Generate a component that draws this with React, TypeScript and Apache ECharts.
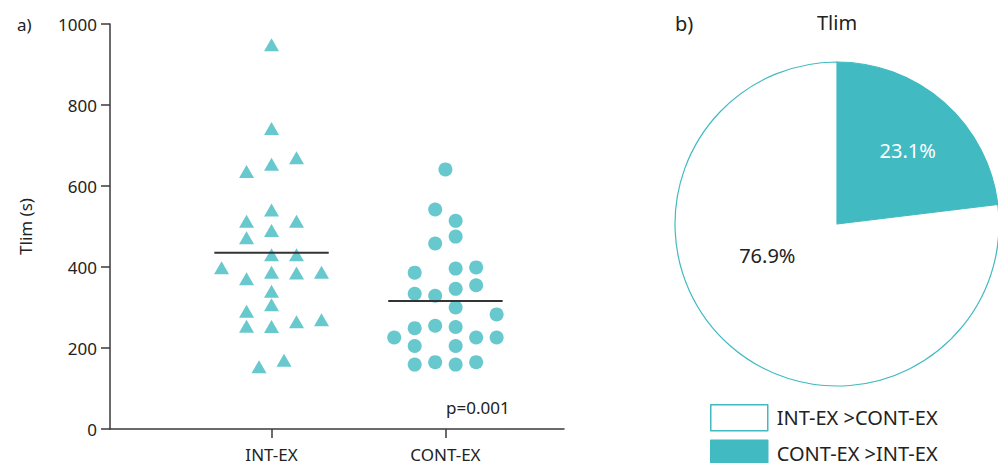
import React, { useEffect, useRef } from "react";
import * as echarts from "echarts";

// ---- data ----
const categories = ["INT-EX", "CONT-EX"];
const yTicks = [0, 200, 400, 600, 800, 1000];
const intexValues = [949, 742, 670, 654, 636, 541, 513, 513, 490, 472, 430, 430, 398, 371, 387, 385, 387, 340, 307, 291, 254, 253, 265, 270, 154, 170];
const intexColumns = [0, 0, 1, 0, -1, 0, -1, 1, 0, -1, 0, 1, -2, -1, 0, 1, 2, 0, 0, -1, -1, 0, 1, 2, -0.5, 0.5];
const contexValues = [641, 542, 514, 475, 458, 386, 396, 399, 334, 329, 346, 355, 300, 283, 226, 249, 255, 252, 226, 226, 205, 205, 159, 165, 159, 165];
const contexColumns = [0, -0.5, 0.5, 0.5, -0.5, -1.5, 0.5, 1.5, -1.5, -0.5, 0.5, 1.5, 0.5, 2.5, -2.5, -1.5, -0.5, 0.5, 1.5, 2.5, -1.5, 0.5, -1.5, -0.5, 0.5, 1.5];
const groupMeans = [435, 316];
const pValueText = "p=0.001";
const pieNames = ["CONT-EX >INT-EX", "INT-EX >CONT-EX"];
const pieCounts = [6, 20];
const legendOrder = ["INT-EX >CONT-EX", "CONT-EX >INT-EX"];

// ---- style ----
const TEAL = "#41BAC1";
const TEXT = "#222222";
const AXIS = "#3a3a3a";
const FONT = "'Noto Sans', sans-serif";
const TRI_STEP = 0.1437;
const CIRC_STEP = 0.1178;
const MEAN_HALF = 0.329;

export default function App() {
  const ref = useRef<HTMLDivElement>(null);

  useEffect(() => {
    if (!ref.current) return;
    const chart = echarts.init(ref.current, undefined, { renderer: "svg" });

    const option: any = {
      animation: false,
      textStyle: { fontFamily: FONT },
      grid: { left: 110, top: 24, right: 434, bottom: 32, containLabel: false },
      xAxis: {
        type: "value",
        min: -0.929,
        max: 1.682,
        axisLine: { show: true, onZero: false, lineStyle: { color: AXIS, width: 1.5 } },
        axisTick: { show: true, customValues: [0, 1], length: 9, lineStyle: { color: AXIS, width: 1.5 } },
        axisLabel: {
          customValues: [0, 1],
          formatter: (v: number) => categories[Math.round(v)] ?? "",
          margin: 17,
          fontSize: 17,
          color: TEXT,
          fontFamily: FONT,
        },
        splitLine: { show: false },
      },
      yAxis: {
        type: "value",
        min: yTicks[0],
        max: yTicks[yTicks.length - 1],
        interval: 200,
        name: "Tlim (s)",
        nameLocation: "middle",
        nameRotate: 90,
        nameGap: 76,
        nameTextStyle: { fontSize: 17, color: TEXT, fontFamily: FONT },
        axisLine: { show: true, onZero: false, lineStyle: { color: AXIS, width: 1.5 } },
        axisTick: { show: true, length: 9, lineStyle: { color: AXIS, width: 1.5 } },
        axisLabel: { margin: 13, fontSize: 17, color: TEXT, fontFamily: FONT, formatter: (v: number) => String(v) },
        splitLine: { show: false },
      },
      legend: {
        orient: "vertical",
        left: 710,
        top: 404,
        height: 120,
        padding: 0,
        itemWidth: 57,
        itemHeight: 26,
        itemGap: 8,
        icon: "rect",
        selectedMode: false,
        textStyle: { fontSize: 20, color: TEXT, fontFamily: FONT, padding: [0, 0, 0, 4] },
        data: legendOrder.map((n) => ({
          name: n,
          itemStyle: n === pieNames[0]
            ? { color: TEAL, borderColor: TEAL, borderWidth: 1.5 }
            : { color: "#ffffff", borderColor: TEAL, borderWidth: 1.5 },
        })),
      },
      graphic: [
        { type: "text", x: 17, y: 24, style: { text: "a)", font: `17px ${FONT}`, fill: TEXT, align: "left", verticalAlign: "middle" } },
        { type: "text", x: 675, y: 23, style: { text: "b)", font: `20px ${FONT}`, fill: TEXT, align: "left", verticalAlign: "middle" } },
        { type: "text", x: 837, y: 22, style: { text: "Tlim", font: `20px ${FONT}`, fill: TEXT, align: "center", verticalAlign: "middle" } },
        { type: "text", x: 446, y: 407, style: { text: pValueText, font: `17px ${FONT}`, fill: TEXT, align: "left", verticalAlign: "middle" } },
      ],
      series: [
        {
          type: "scatter",
          name: categories[0],
          symbol: "triangle",
          symbolSize: [15, 13],
          itemStyle: { color: TEAL },
          silent: true,
          data: intexValues.map((v, i) => [0 + intexColumns[i] * TRI_STEP, v]),
        },
        {
          type: "scatter",
          name: categories[1],
          symbol: "circle",
          symbolSize: 14,
          itemStyle: { color: TEAL },
          silent: true,
          data: contexValues.map((v, i) => [1 + contexColumns[i] * CIRC_STEP, v]),
        },
        ...groupMeans.map((m, i) => ({
          type: "line",
          name: "mean-" + categories[i],
          symbol: "none",
          silent: true,
          lineStyle: { color: "#333333", width: 2 },
          data: [[i - MEAN_HALF, m], [i + MEAN_HALF, m]],
          z: 3,
        })),
        {
          type: "pie",
          center: [837, 224],
          radius: 162,
          startAngle: 90,
          clockwise: true,
          percentPrecision: 1,
          silent: true,
          emphasis: { disabled: true },
          labelLine: { show: false },
          label: { show: true, position: "inside", formatter: "{d}%", fontSize: 20, fontFamily: FONT },
          labelLayout: (p: any) => (p.dataIndex === 0 ? { dx: 15, dy: -11 } : { dx: -14, dy: -31 }),
          data: pieNames.map((n, i) => ({
            name: n,
            value: pieCounts[i],
            itemStyle: i === 0
              ? { color: TEAL, borderColor: TEAL, borderWidth: 1.2 }
              : { color: "#ffffff", borderColor: TEAL, borderWidth: 1.2 },
            label: { color: i === 0 ? "#ffffff" : TEXT },
          })),
        },
      ],
    };

    chart.setOption(option);
    return () => chart.dispose();
  }, []);

  return <div ref={ref} style={{ width: 998, height: 463, position: "absolute", left: 0, top: 0 }} />;
}
